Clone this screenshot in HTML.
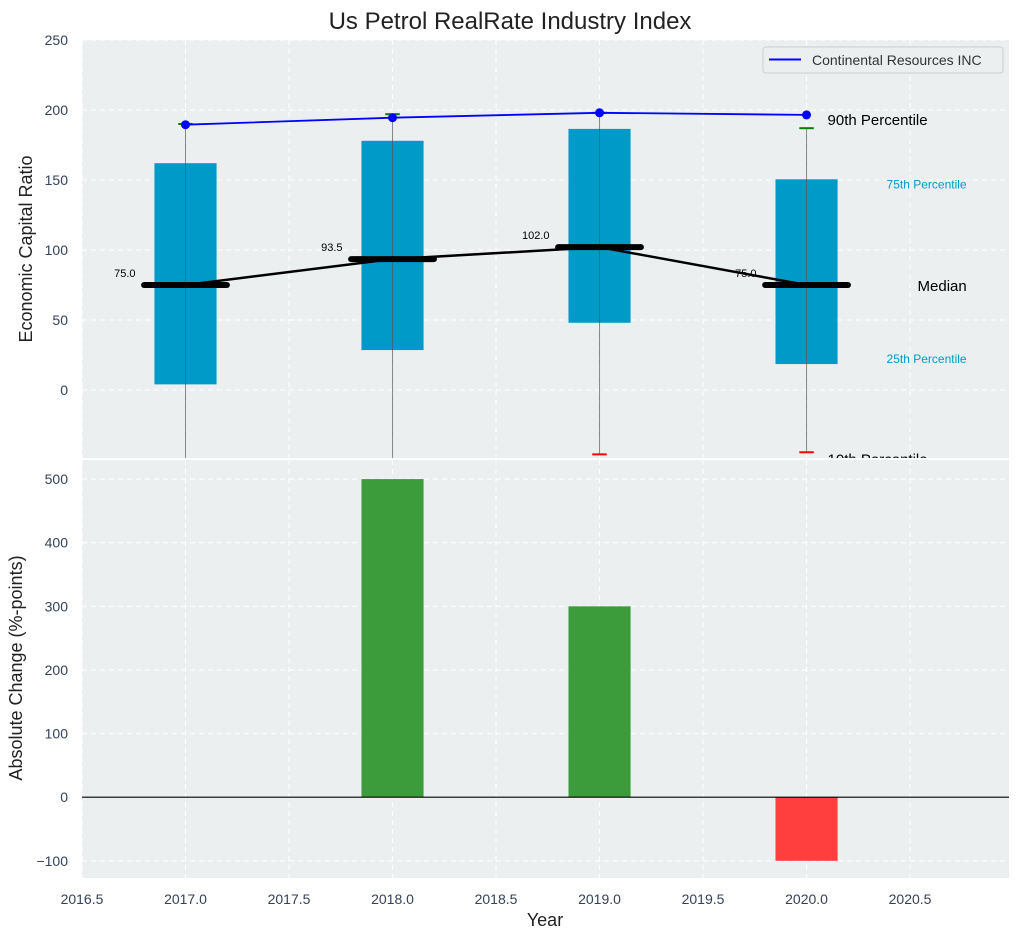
<!DOCTYPE html>
<html><head><meta charset="utf-8"><style>
body{margin:0;background:#fff;}
svg{display:block;font-family:"Liberation Sans",sans-serif;}
</style></head><body>
<svg id="chart" width="1021" height="940">
<text x="510" y="29" text-anchor="middle" font-size="24" fill="#222">Us Petrol RealRate Industry Index</text>
<g id="topPanel"></g>
<g id="botPanel"></g>
</svg>
<script>
const years = [2017, 2018, 2019, 2020];
const q1 = [4, 28.5, 48, 18.5];
const q3 = [162, 178, 186.5, 150.5];
const medians = [75, 93.5, 102, 75];
const p90 = [190, 197, 198, 187];
const p10 = [-70, -70, -46, -44.5];
const company = [189.5, 194.5, 198, 196.5];
const changes = [0, 500, 300, -100];
const topTicks = [0, 50, 100, 150, 200, 250];
const botTicks = [-100, 0, 100, 200, 300, 400, 500];
const xTicks = [2016.5, 2017.0, 2017.5, 2018.0, 2018.5, 2019.0, 2019.5, 2020.0, 2020.5];

const NS = 'http://www.w3.org/2000/svg';
const L = 82, R = 1009;
const X0 = 2016.5, X1 = 2020.978;
const x = v => L + (v - X0) / (X1 - X0) * (R - L);
const TT = 40, TB = 458, TY0 = -48.6, TY1 = 250;
const yT = v => TB - (v - TY0) / (TY1 - TY0) * (TB - TT);
const BT = 460, BB = 878, BY0 = -127, BY1 = 530;
const yB = v => BB - (v - BY0) / (BY1 - BY0) * (BB - BT);

function mk(parent, tag, attrs, text) {
  const e = document.createElementNS(NS, tag);
  for (const k in attrs) e.setAttribute(k, attrs[k]);
  if (text !== undefined) e.textContent = text;
  parent.appendChild(e);
  return e;
}
const topG = document.getElementById('topPanel');
const botG = document.getElementById('botPanel');

const defs = mk(document.getElementById('chart'), 'defs', {});
const c1 = mk(defs, 'clipPath', {id: 'ct'}); mk(c1, 'rect', {x: L, y: TT, width: R - L, height: TB - TT});
const c2 = mk(defs, 'clipPath', {id: 'cb'}); mk(c2, 'rect', {x: L, y: BT, width: R - L, height: BB - BT});

let bg = mk(topG, 'rect', {x: L, y: TT, width: R - L, height: TB - TT, fill: '#eceff0'});


bg = mk(botG, 'rect', {x: L, y: BT, width: R - L, height: BB - BT, fill: '#eceff0'});



xTicks.forEach(t => {
  let g = mk(topG, 'line', {x1: x(t), x2: x(t), y1: TT, y2: TB, stroke: '#fff', 'stroke-dasharray': '5,4', 'stroke-width': 1});
  
  
  g = mk(botG, 'line', {x1: x(t), x2: x(t), y1: BT, y2: BB, stroke: '#fff', 'stroke-dasharray': '5,4', 'stroke-width': 1});
  
  
  const lb = mk(botG, 'text', {x: x(t), y: 904, 'text-anchor': 'middle', 'font-size': 14, fill: '#34425a'}, t.toFixed(1));
  
  
});
topTicks.forEach(t => {
  const g = mk(topG, 'line', {x1: L, x2: R, y1: yT(t), y2: yT(t), stroke: '#fff', 'stroke-dasharray': '5,4'});
  
  
  const lb = mk(topG, 'text', {x: 68, y: yT(t) + 5, 'text-anchor': 'end', 'font-size': 14, fill: '#34425a'}, String(t));
  
  
});
botTicks.forEach(t => {
  const g = mk(botG, 'line', {x1: L, x2: R, y1: yB(t), y2: yB(t), stroke: '#fff', 'stroke-dasharray': '5,4'});
  
  
  const lb = mk(botG, 'text', {x: 68, y: yB(t) + 5, 'text-anchor': 'end', 'font-size': 14, fill: '#34425a'}, t < 0 ? '\u2212' + Math.abs(t) : String(t));
  
  
});

const tg = mk(topG, 'g', {'clip-path': 'url(#ct)'});
const bw = 0.3;
years.forEach((yr, i) => {
  const b = mk(tg, 'rect', {x: x(yr - bw / 2), y: yT(q3[i]), width: x(yr + bw / 2) - x(yr - bw / 2), height: yT(q1[i]) - yT(q3[i]), fill: '#009ac9'});
  
  
  const w = mk(tg, 'line', {x1: x(yr), x2: x(yr), y1: yT(p90[i]), y2: yT(p10[i]), stroke: '#555', 'stroke-opacity': 0.7, 'stroke-width': 1});
  
  
  const c90 = mk(tg, 'line', {x1: x(yr - 0.035), x2: x(yr + 0.035), y1: yT(p90[i]), y2: yT(p90[i]), stroke: 'green', 'stroke-width': 2});
  
  
  const c10 = mk(tg, 'line', {x1: x(yr - 0.035), x2: x(yr + 0.035), y1: yT(p10[i]), y2: yT(p10[i]), stroke: 'red', 'stroke-width': 2});
  
  
});
const medPts = years.map((yr, i) => x(yr) + ',' + yT(medians[i])).join(' ');
const ml = mk(tg, 'polyline', {points: medPts, fill: 'none', stroke: '#000', 'stroke-width': 2.5});


years.forEach((yr, i) => {
  const m = mk(tg, 'line', {x1: x(yr - 0.2), x2: x(yr + 0.2), y1: yT(medians[i]), y2: yT(medians[i]), stroke: '#000', 'stroke-width': 6, 'stroke-linecap': 'round'});
  
  
  const t = mk(tg, 'text', {x: x(yr) - 50, y: yT(medians[i]) - 8, 'text-anchor': 'end', 'font-size': 11, fill: '#000'}, medians[i].toFixed(1));
  
  
});
const cPts = years.map((yr, i) => x(yr) + ',' + yT(company[i])).join(' ');
const cl = mk(tg, 'polyline', {points: cPts, fill: 'none', stroke: '#0000ff', 'stroke-width': 1.8});


years.forEach((yr, i) => {
  const d = mk(tg, 'circle', {cx: x(yr), cy: yT(company[i]), r: 4.5, fill: '#0000ff'});
  
  
});
const last = years.length - 1, lx = x(years[last]);
const ann = [
  ['90th Percentile', lx + 21, yT(p90[last]) - 3, 15, '#000', 'start', 'p90-annotation'],
  ['75th Percentile', lx + 80, yT(q3[last]) + 9, 12, '#009ac9', 'start', 'p75-annotation'],
  ['Median', lx + 111, yT(medians[last]) + 6, 15, '#000', 'start', 'median-annotation'],
  ['25th Percentile', lx + 80, yT(q1[last]) - 1, 12, '#009ac9', 'start', 'p25-annotation'],
  ['10th Percentile', lx + 21, yT(p10[last]) + 12, 15, '#000', 'start', 'p10-annotation']
];
ann.forEach(a => {
  const t = mk(tg, 'text', {x: a[1], y: a[2], 'font-size': a[3], fill: a[4], 'text-anchor': a[5]}, a[0]);
  
  
});

const lg = mk(topG, 'g', {});


mk(lg, 'rect', {x: 763, y: 47, width: 240, height: 26, rx: 3, fill: '#eceff0', stroke: '#ccc'});
mk(lg, 'line', {x1: 769, x2: 801, y1: 59.5, y2: 59.5, stroke: '#0000ff', 'stroke-width': 2});
const lt = mk(lg, 'text', {x: 812, y: 65, 'font-size': 14, fill: '#333'}, 'Continental Resources INC');



const bars = mk(botG, 'g', {'clip-path': 'url(#cb)'});
years.forEach((yr, i) => {
  const v = changes[i];
  if (v === 0) return;
  const b = mk(bars, 'rect', {x: x(yr - 0.15), y: Math.min(yB(v), yB(0)), width: x(yr + 0.15) - x(yr - 0.15), height: Math.abs(yB(v) - yB(0)), fill: v > 0 ? '#3c9c3c' : '#ff3e3e'});
  
  
});
const zl = mk(botG, 'line', {x1: L, x2: R, y1: yB(0), y2: yB(0), stroke: '#000', 'stroke-width': 1.2});



let at = mk(topG, 'text', {x: 32, y: 249, transform: 'rotate(-90 32 249)', 'text-anchor': 'middle', 'font-size': 18, fill: '#222'}, 'Economic Capital Ratio');


at = mk(botG, 'text', {x: 22, y: 668, transform: 'rotate(-90 22 668)', 'text-anchor': 'middle', 'font-size': 18, fill: '#222'}, 'Absolute Change (%-points)');


at = mk(botG, 'text', {x: 545, y: 926, 'text-anchor': 'middle', 'font-size': 18, fill: '#222'}, 'Year');


</script>
</body></html>
